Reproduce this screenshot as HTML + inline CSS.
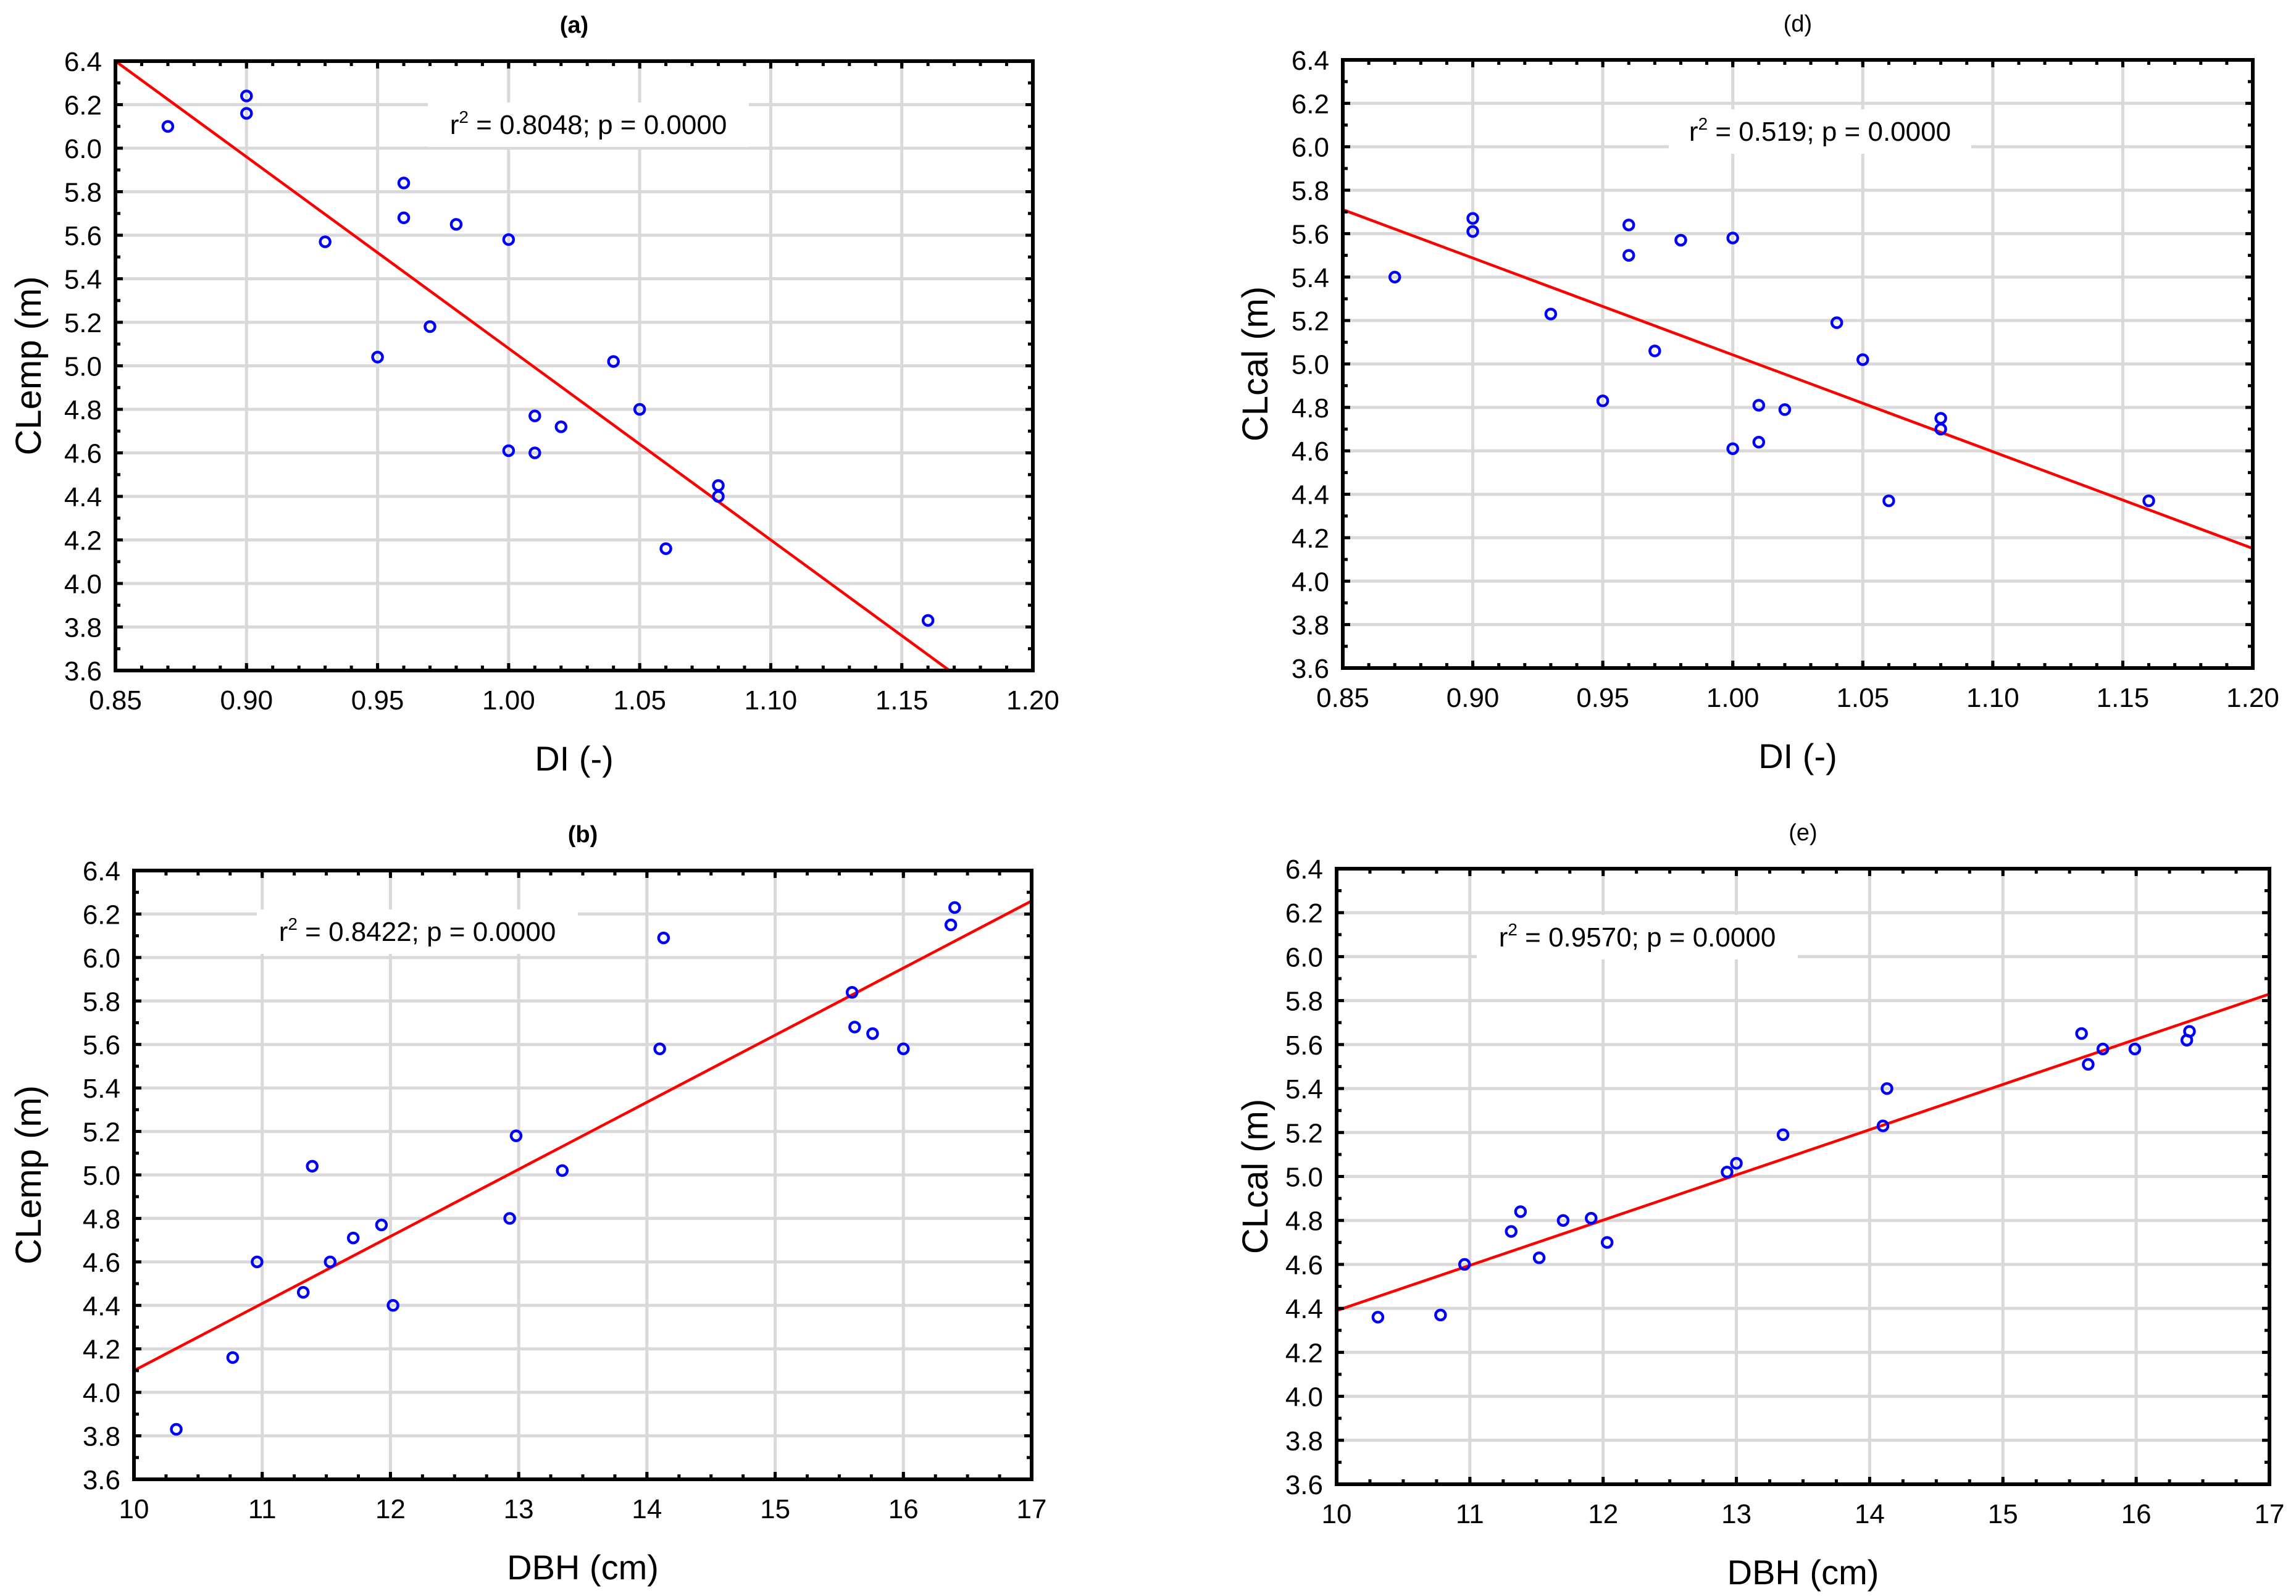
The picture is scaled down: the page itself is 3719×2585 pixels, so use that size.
<!DOCTYPE html>
<html><head><meta charset="utf-8">
<style>html,body{margin:0;padding:0;background:#fff}svg{display:block}</style>
</head><body>
<svg id="fig" width="3719" height="2585" viewBox="0 0 3719 2585" xmlns="http://www.w3.org/2000/svg" font-family="Liberation Sans, sans-serif"></svg>
<script>
// ---- data ----
const diA = [0.87,0.90,0.90,0.93,0.95,0.96,0.96,0.97,0.98,1.00,1.00,1.01,1.01,1.02,1.04,1.05,1.06,1.08,1.08,1.16];
const clempA = [6.10,6.24,6.16,5.57,5.04,5.84,5.68,5.18,5.65,5.58,4.61,4.77,4.60,4.72,5.02,4.80,4.16,4.45,4.40,3.83];
const diD = [0.87,0.90,0.90,0.93,0.95,0.96,0.96,0.97,0.98,1.00,1.00,1.01,1.01,1.02,1.04,1.05,1.06,1.08,1.08,1.16];
const clcalD = [5.40,5.67,5.61,5.23,4.83,5.64,5.50,5.06,5.57,5.58,4.61,4.81,4.64,4.79,5.19,5.02,4.37,4.75,4.70,4.37];
const dbhB = [10.33,10.77,10.96,11.32,11.39,11.53,11.71,11.93,12.02,12.93,12.98,13.34,14.10,14.13,15.60,15.62,15.76,16.00,16.37,16.40];
const clempB = [3.83,4.16,4.60,4.46,5.04,4.60,4.71,4.77,4.40,4.80,5.18,5.02,5.58,6.09,5.84,5.68,5.65,5.58,6.15,6.23];
const dbhE = [10.31,10.78,10.96,11.31,11.38,11.52,11.70,11.91,12.03,12.93,13.00,13.35,14.10,14.13,15.59,15.64,15.75,15.99,16.38,16.40];
const clcalE = [4.36,4.37,4.60,4.75,4.84,4.63,4.80,4.81,4.70,5.02,5.06,5.19,5.23,5.40,5.65,5.51,5.58,5.58,5.62,5.66];
const fitA = [13.88,-8.8];
const fitD = [9.499,-4.457];
const fitB = [1.014,0.3086];
const fitE = [2.333,0.2057];
const yTicks = ["3.6","3.8","4.0","4.2","4.4","4.6","4.8","5.0","5.2","5.4","5.6","5.8","6.0","6.2","6.4"];
const diTicks = ["0.85","0.90","0.95","1.00","1.05","1.10","1.15","1.20"];
const dbhTicks = ["10","11","12","13","14","15","16","17"];

const NS="http://www.w3.org/2000/svg";
const svg=document.getElementById('fig');
function mk(tag,attrs,parent){const e=document.createElementNS(NS,tag);for(const k in attrs)e.setAttribute(k,attrs[k]);(parent||svg).appendChild(e);return e;}

function panel(o){
  const g=mk('g',{});
  
  
  const xs=v=>o.L+(v-o.xmin)/(o.xmax-o.xmin)*(o.R-o.L);
  const ys=v=>o.B-(v-3.6)/(6.4-3.6)*(o.B-o.T);
  const xt=o.xticks.map(Number);
  xt.forEach(v=>{const x=xs(v);const l=mk('line',{x1:x,x2:x,y1:o.T,y2:o.B,stroke:'#d9d9d9','stroke-width':5},g);
    });
  yTicks.map(Number).forEach(v=>{const y=ys(v);const l=mk('line',{x1:o.L,x2:o.R,y1:y,y2:y,stroke:'#d9d9d9','stroke-width':5},g);
    });
  const lb=mk('rect',{x:o.lx-o.lw/2,y:o.ly-36,width:o.lw,height:72,fill:'#fff'},g);
  
  const t=mk('text',{x:o.lx,y:o.ly+15,'font-size':44,'text-anchor':'middle',fill:'#000'},g);
  
  t.innerHTML='r<tspan font-size="28" dy="-18">2</tspan><tspan dy="18"> = '+o.r2+';  p = 0.0000</tspan>';
  const cp=mk('clipPath',{id:'c'+o.name},g);
  mk('rect',{x:o.L,y:o.T,width:o.R-o.L,height:o.B-o.T},cp);
  const fl=mk('line',{x1:xs(o.xmin),y1:ys(o.fit[0]+o.fit[1]*o.xmin),x2:xs(o.xmax),y2:ys(o.fit[0]+o.fit[1]*o.xmax),stroke:'#ff0000','stroke-width':4.5,'clip-path':'url(#c'+o.name+')'},g);
  
  o.px.forEach((v,i)=>{const c=mk('circle',{cx:xs(v),cy:ys(o.py[i]),r:8,fill:'none',stroke:'#0000ff','stroke-width':4.5},g);
    });
  const tk=(x1,y1,x2,y2)=>mk('line',{x1,y1,x2,y2,stroke:'#000','stroke-width':5},g);
  for(let i=0;i<xt.length-1;i++){
    for(let j=0;j<=o.nminor;j++){
      const v=xt[i]+(xt[i+1]-xt[i])*j/o.nminor;const x=xs(v);const len=j==0?12:8;
      tk(x,o.T,x,o.T+len);tk(x,o.B,x,o.B-len);
    }
  }
  for(let k=0;k<=28;k++){const y=ys(3.6+k*0.1);const len=k%2==0?12:8;tk(o.L,y,o.L+len,y);tk(o.R,y,o.R-len,y);}
  const fr=mk('rect',{x:o.L,y:o.T,width:o.R-o.L,height:o.B-o.T,fill:'none',stroke:'#000','stroke-width':6},g);
  
  o.xticks.forEach(s=>{const e=mk('text',{x:xs(Number(s)),y:o.B+63,'font-size':44,'text-anchor':'middle'},g);e.textContent=s;
    });
  yTicks.forEach(s=>{const e=mk('text',{x:o.L-22,y:ys(Number(s))+16,'font-size':44,'text-anchor':'end'},g);e.textContent=s;
    });
  const xt2=mk('text',{x:(o.L+o.R)/2,y:o.B+162,'font-size':56,'text-anchor':'middle'},g);xt2.textContent=o.xlabel;
  
  const cy=(o.T+o.B)/2;
  const yt=mk('text',{x:o.yx,y:cy,'font-size':58,'text-anchor':'middle',transform:'rotate(-90 '+o.yx+' '+cy+')'},g);yt.textContent=o.ylabel;
  
  const pt=mk('text',{x:(o.L+o.R)/2,y:o.T-46,'font-size':38,'text-anchor':'middle','font-weight':o.bold?'bold':'normal'},g);pt.textContent=o.title;
  
}
panel({name:'panel-a',L:187,R:1673,T:99,B:1086,xmin:0.85,xmax:1.20,xticks:diTicks,nminor:5,px:diA,py:clempA,fit:fitA,r2:'0.8048',lx:953,ly:202,lw:520,xlabel:'DI (-)',ylabel:'CLemp (m)',yx:66,title:'(a)',bold:true});
panel({name:'panel-d',L:2175,R:3649,T:97,B:1082,xmin:0.85,xmax:1.20,xticks:diTicks,nminor:5,px:diD,py:clcalD,fit:fitD,r2:'0.519',lx:2948,ly:213,lw:490,xlabel:'DI (-)',ylabel:'CLcal (m)',yx:2053,title:'(d)',bold:false});
panel({name:'panel-b',L:217,R:1671,T:1410,B:2396,xmin:10,xmax:17,xticks:dbhTicks,nminor:4,px:dbhB,py:clempB,fit:fitB,r2:'0.8422',lx:676,ly:1509,lw:520,xlabel:'DBH (cm)',ylabel:'CLemp (m)',yx:66,title:'(b)',bold:true});
panel({name:'panel-e',L:2165,R:3676,T:1407,B:2404,xmin:10,xmax:17,xticks:dbhTicks,nminor:4,px:dbhE,py:clcalE,fit:fitE,r2:'0.9570',lx:2652,ly:1518,lw:520,xlabel:'DBH (cm)',ylabel:'CLcal (m)',yx:2053,title:'(e)',bold:false});
</script>
</body></html>
